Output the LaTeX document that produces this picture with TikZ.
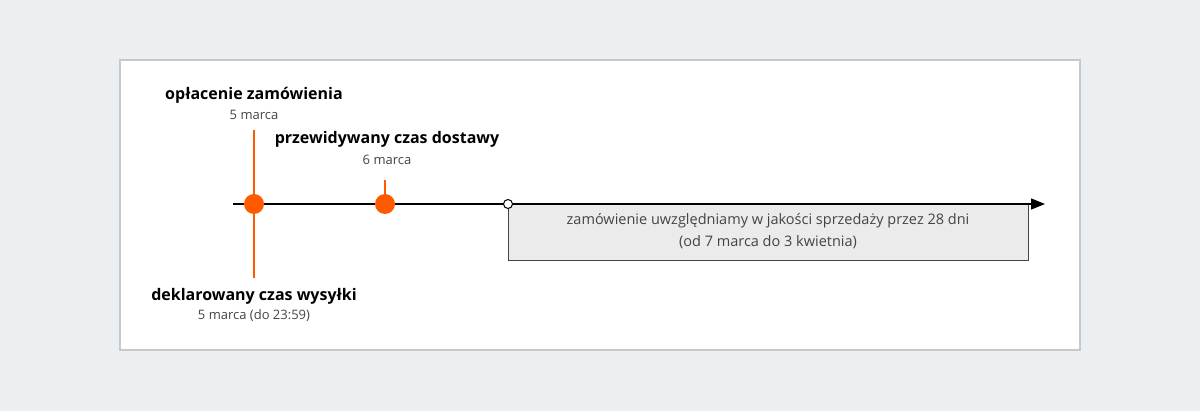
\documentclass[tikz,border=0pt]{standalone}
\usepackage{fontspec}
\setmainfont{Open Sans}
\usetikzlibrary{arrows.meta}
\definecolor{bg}{HTML}{ECEFF2}
\definecolor{frame}{HTML}{C8C8C8}
\definecolor{org}{HTML}{FF5A00}
\definecolor{boxfill}{HTML}{EBEBEB}
\definecolor{txt}{HTML}{444444}
\tikzset{
  title/.style={font=\fontsize{16}{18}\selectfont\bfseries, text=black, inner sep=0pt},
  sub/.style={font=\fontsize{13}{15}\selectfont, text=txt, inner sep=0pt},
  dot/.style={circle, fill=org, minimum size=20pt, inner sep=0pt},
  odot/.style={circle, draw=black, fill=white, line width=1pt, minimum size=9pt, inner sep=0pt},
  oline/.style={draw=org, line width=1.5pt}
}
\begin{document}
\begin{tikzpicture}[x=1pt,y=-1pt]
\fill[bg] (0,0) rectangle (1200,411);
\useasboundingbox (0,0) rectangle (1200,411);
\draw[frame, fill=white, line width=1.5pt] (120,60) rectangle (1080,350);
% info box
\draw[fill=boxfill, draw=txt, line width=0.8pt] (508,204) rectangle (1028,260);
\node[sub, font=\fontsize{14.5}{17}\selectfont, align=center] (bt) at (768,231) {zamówienie uwzględniamy w jakości sprzedaży przez 28 dni\\[5pt](od 7 marca do 3 kwietnia)};
% axis
\coordinate (s) at (233,204);
\coordinate (e) at (1045,204);
\draw[line width=1.3pt, -{Triangle[length=14pt,width=11pt]}] (s) -- (e);
% vertical lines
\coordinate (a1) at (254,130);
\coordinate (a2) at (254,278);
\coordinate (b1) at (385,180);
\draw[oline] (a1) -- (a2);
\node[dot] (d1) at (254,204) {};
\draw[oline] (b1) -- (385,204);
\node[dot] (d2) at (385,204) {};
\node[odot] (d3) at (508,204) {};
% labels
\node[title] (t1) at (254,95) {opłacenie zamówienia};
\node[sub] (s1) at (254,115) {5 marca};
\node[title] (t2) at (387,139) {przewidywany czas dostawy};
\node[sub] (s2) at (387,160) {6 marca};
\node[title] (t3) at (254,296) {deklarowany czas wysyłki};
\node[sub] (s3) at (254,316) {5 marca (do 23:59)};
\end{tikzpicture}
\end{document}
